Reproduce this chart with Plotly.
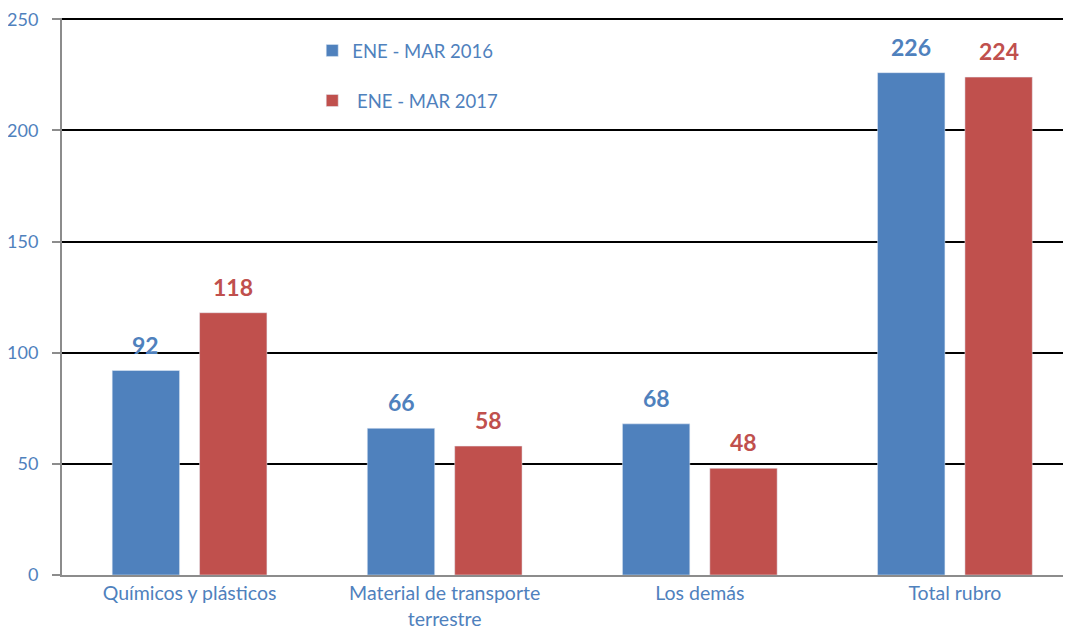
import plotly.graph_objects as go

categorias = ["Químicos y plásticos", "Material de transporte<br>terrestre", "Los demás", "Total rubro"]
valores_2016 = [92, 66, 68, 226]
valores_2017 = [118, 58, 48, 224]

AZUL = "#4F81BD"
ROJO = "#C0504D"
FUENTE = "Lato, Carlito, Calibri, sans-serif"

fig = go.Figure()

fig.add_trace(go.Bar(
    x=categorias, y=valores_2016, name="ENE - MAR 2016",
    marker=dict(color=AZUL), legendgroup="a",
))
fig.add_trace(go.Bar(
    x=categorias, y=valores_2017, name=" ENE - MAR 2017",
    marker=dict(color=ROJO), legendgroup="b",
))

# etiquetas de valor encima de cada barra
anotaciones = []
for i, cat in enumerate(categorias):
    for val, col, desp in [(valores_2016[i], AZUL, -0.171), (valores_2017[i], ROJO, 0.171)]:
        anotaciones.append(dict(
            x=i + desp, y=val, xref="x", yref="y", text=f"<b>{val}</b>",
            showarrow=False, yanchor="bottom", yshift=10,
            font=dict(color=col, size=23, family=FUENTE),
        ))

# la página tiene 8px de margen en el body: la figura ocupa 1063x632
fig.update_layout(
    width=1063, height=632,
    margin=dict(l=54, r=0, t=10, b=65, autoexpand=False),
    plot_bgcolor="white", paper_bgcolor="white",
    barmode="group", bargap=0.315, bargroupgap=0.229,
    font=dict(family=FUENTE, color=AZUL, size=19),
    legend=dict(
        x=0.248, y=0.975, xanchor="left", yanchor="top",
        bgcolor="rgba(0,0,0,0)", tracegroupgap=23,
        font=dict(size=18.5, color=AZUL),
        itemwidth=30,
    ),
    annotations=anotaciones,
    showlegend=True,
)

fig.update_xaxes(
    range=[-0.5, 3.455], automargin=False,
    showline=True, linecolor="#8C8C8C", linewidth=2,
    ticks="", tickfont=dict(size=19.5, color=AZUL),
    showgrid=False,
)
fig.update_yaxes(
    range=[0, 250.6], dtick=50, automargin=False,
    showline=True, linecolor="#8C8C8C", linewidth=2,
    ticks="outside", ticklen=8, tickcolor="#8C8C8C", tickwidth=2,
    ticklabelstandoff=10, ticklabeloverflow="allow",
    tickfont=dict(size=18, color=AZUL),
    showgrid=True, gridcolor="black", gridwidth=1.5,
    zeroline=False,
)

fig.write_html("out.html")
